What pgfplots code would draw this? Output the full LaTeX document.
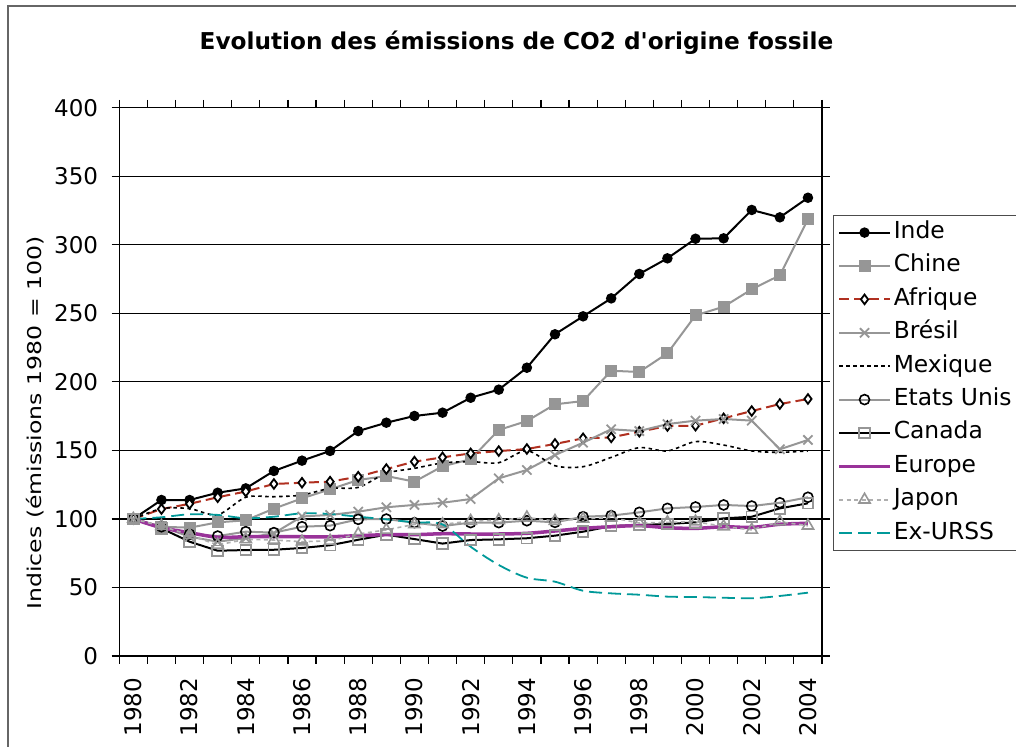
\documentclass[border=0pt]{standalone}
\usepackage{pgfplots}
\usepackage{pgfplotstable}
\pgfplotsset{compat=1.18}
\usepackage{fontspec}
\setmainfont{DejaVu Sans}
\definecolor{grayA}{RGB}{150,150,150}
\definecolor{grayB}{RGB}{175,175,175}
\definecolor{afr}{RGB}{176,48,32}
\definecolor{eur}{RGB}{153,51,153}
\definecolor{urss}{RGB}{0,153,153}
\pgfplotstableread{
year Inde Chine Afrique Bresil Mexique EU Canada Europe Japon URSS
1980 100 100 100 100 100 100 100 100 100 100
1981 113.8 94.3 107.2 94.5 107.5 94.3 93.1 93.6 94.8 101.2
1982 113.8 93.6 111 87 107.5 88.8 83.4 90 88.3 103.4
1983 119.1 97.5 115.8 83.4 103 87.5 76.8 86.6 81 102.9
1984 122.3 99 120 86 115.8 90.7 77.3 87 85.1 100.5
1985 135 107.5 125.5 89.5 116.2 90 77.5 87 84.6 101.6
1986 142.5 115 126.4 101.8 117.4 94.3 78.8 87 83.4 104.1
1987 149.6 121.6 127.2 102.9 122.3 95.1 80.8 87 84 103.6
1988 164.1 128.4 130.8 105.3 123 99.7 84.8 87.8 89 101.6
1989 170.2 131.3 136.4 108.5 133.3 99.9 88.5 88.5 92 99.7
1990 175.1 127.2 141.8 110.2 136.9 97.3 85.3 88.5 96 97.5
1991 177.5 138.4 144.9 111.8 140.8 94.8 82 89.2 96 96
1992 188.4 143.5 147.8 114.5 141.8 97.3 84.6 89 98.5 79.7
1993 194.3 164.9 149.5 129.6 141 97.3 85.1 89 99 66.4
1994 210.3 171.4 151 135.7 149.8 98.7 85.9 89.5 101 57.1
1995 234.7 183.6 154.7 146.6 138.8 97.5 87.8 91.2 98.5 54.2
1996 247.8 186 158.8 155.6 138.1 101.6 90.7 93.1 100 47.6
1997 260.9 208.1 159.5 165.4 144.9 102.4 94.8 94.3 101 45.7
1998 278.7 207.2 163.6 164.1 152 104.8 95.6 95.1 97 44.7
1999 290.1 220.8 167.8 169.2 149.6 107.7 96.3 93.6 97.5 43.3
2000 304.4 248.5 168 171.7 156.4 108.7 97.5 93.1 98 43
2001 304.7 254.8 173.4 172.9 153.9 110.2 100.4 94.3 94.5 42.5
2002 325.4 267.5 178.7 171.7 149.6 109.4 101.6 93.8 92 42.1
2003 320 277.7 183.8 150.8 148.6 111.8 107.7 96.1 98 43.8
2004 334.3 318.6 187.5 157.6 149.6 115.8 111.4 96.8 95 46.2
}\datatable
\begin{document}
\begin{tikzpicture}[x=1pt,y=1pt]
\useasboundingbox (0,0) rectangle (1016,746);
\draw[line width=1.3pt, black!60] (8,-20) -- (8,740) -- (1040,740);
\node[anchor=base, font=\fontsize{23.2}{28}\selectfont\bfseries] at (516.5,696) {Evolution des émissions de CO2 d\textquotesingle origine fossile};
\node[rotate=90, font=\fontsize{19}{23}\selectfont] at (35,323) {\scalebox{1.24}[1]{Indices (émissions 1980 = 100)}};
\begin{axis}[
  at={(119.3pt,90pt)}, anchor=south west,
  scale only axis, width=702.7pt, height=548.3pt,
  xmin=1979.5, xmax=2004.5, ymin=0, ymax=400,
  axis line style={black, line width=1.2pt},
  ymajorgrids, grid style={black, line width=1.2pt},
  ytick={0,50,...,400},
  xtick={1979.5,1980.5,...,2004.5}, xticklabels={},
  extra x ticks={1980,1982,...,2004},
  extra x tick labels={1980,1982,1984,1986,1988,1990,1992,1994,1996,1998,2000,2002,2004},
  extra x tick style={tick style={draw=none}, tick label style={rotate=90, anchor=east, inner sep=0pt}},
  tick align=outside, major tick length=7.7pt,
  tick style={black, line width=1.2pt},
  yticklabel style={anchor=east, inner sep=0pt},
  xticklabel shift=14pt, yticklabel shift=13.3pt,
  ticklabel style={font=\fontsize{23}{27}\selectfont},
  /pgf/number format/assume math mode=true,
  legend style={at={(1.0152,0.8043)}, anchor=north west, draw=black!70, line width=1.2pt,
    font=\fontsize{23.4}{28}\selectfont, inner xsep=4pt, inner ysep=4pt, row sep=7.4pt,
    nodes={inner sep=2pt, text height=17pt, text depth=5pt}},
  legend cell align=left,
  legend image code/.code={\draw[mark repeat=2,mark phase=2,#1] plot coordinates {(0pt,0pt) (25.5pt,0pt) (51pt,0pt)};},
]
\addplot[black, line width=2pt, mark=*, mark size=4.2pt, mark options={solid, fill=black}] table[x=year,y=Inde]{\datatable};
\addlegendentry{Inde}
\addplot[grayA, line width=2pt, mark=square*, mark size=5pt, mark options={solid, fill=grayA}] table[x=year,y=Chine]{\datatable};
\addlegendentry{Chine}
\addplot[afr, line width=2pt, dash pattern=on 10pt off 5pt, mark=diamond*, mark size=4.8pt, mark options={solid, fill=white, draw=black, line width=1.8pt}] table[x=year,y=Afrique]{\datatable};
\addlegendentry{Afrique}
\addplot[grayA, line width=2pt, mark=x, mark size=6.5pt, mark options={solid, line width=1.8pt}] table[x=year,y=Bresil]{\datatable};
\addlegendentry{Brésil}
\addplot[black, line width=1.6pt, dash pattern=on 3.5pt off 3.5pt, smooth, no markers] table[x=year,y=Mexique]{\datatable};
\addlegendentry{Mexique}
\addplot[grayA, line width=2pt, mark=o, mark size=5pt, mark options={solid, draw=black, line width=1.6pt}] table[x=year,y=EU]{\datatable};
\addlegendentry{Etats Unis}
\addplot[black, line width=2pt, mark=square, mark size=5.3pt, mark options={solid, draw=grayA, line width=1.8pt}] table[x=year,y=Canada]{\datatable};
\addlegendentry{Canada}
\addplot[eur, line width=3.5pt, smooth, no markers] table[x=year,y=Europe]{\datatable};
\addlegendentry{Europe}
\addplot[grayB, line width=1.6pt, dash pattern=on 4pt off 3.5pt, mark=triangle, mark size=6.5pt, mark options={solid, draw=grayA, line width=1.6pt}] table[x=year,y=Japon]{\datatable};
\addlegendentry{Japon}
\addplot[urss, line width=1.8pt, dash pattern=on 13pt off 6pt, smooth, no markers] table[x=year,y=URSS]{\datatable};
\addlegendentry{Ex-URSS}
\end{axis}
\end{tikzpicture}
\end{document}
